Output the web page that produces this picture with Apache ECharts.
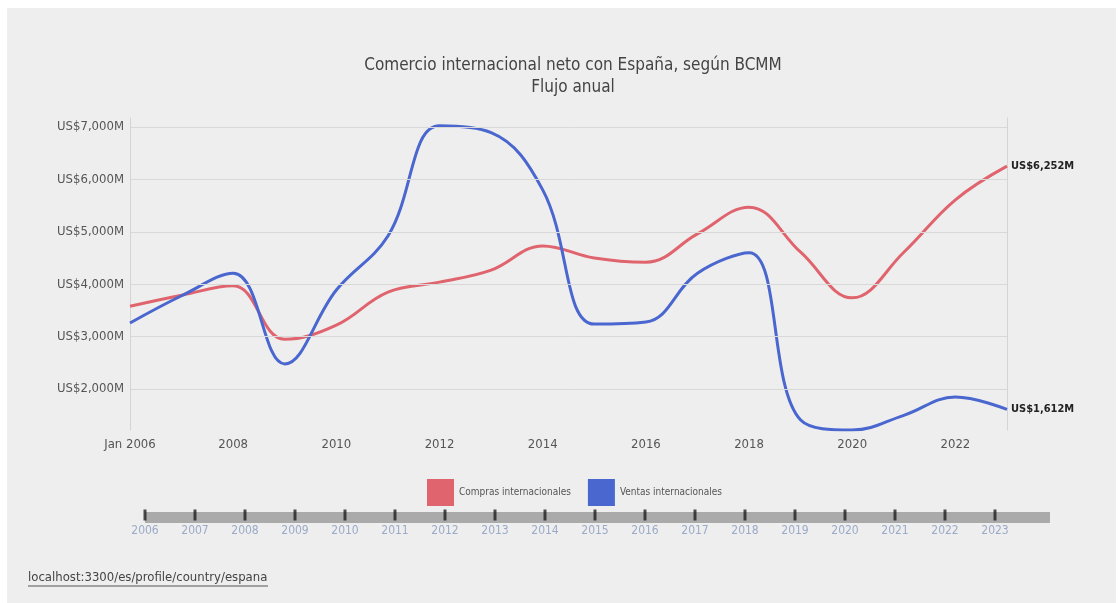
<!DOCTYPE html>
<html>
<head>
<meta charset="utf-8">
<script src="https://cdn.jsdelivr.net/npm/echarts@6/dist/echarts.min.js"></script>
<style>
html, body { margin: 0; padding: 0; background: #ffffff; }
#chart { width: 1118px; height: 603px; }
</style>
</head>
<body>
<div id="chart"></div>
<script>
var years = ['2006', '2007', '2008', '2009', '2010', '2011', '2012', '2013', '2014',
  '2015', '2016', '2017', '2018', '2019', '2020', '2021', '2022', '2023'];
// millones de US$
var compras = [3580, 3790, 3970, 2950, 3220, 3850, 4040, 4270, 4730,
  4500, 4420, 4960, 5470, 4610, 3740, 4610, 5610, 6252];
var ventas = [3260, 3780, 4210, 2480, 3890, 4920, 7020, 6890, 5800,
  3240, 3280, 4210, 4600, 1410, 1220, 1500, 1850, 1612];
var yTicks = [2000, 3000, 4000, 5000, 6000, 7000];
var timelineYears = [2006, 2007, 2008, 2009, 2010, 2011, 2012, 2013, 2014,
  2015, 2016, 2017, 2018, 2019, 2020, 2021, 2022, 2023];

var font = "'Liberation Sans Narrow', 'DejaVu Sans Condensed', 'Roboto', sans-serif";

function money(v) {
  return 'US$' + Math.round(v).toLocaleString('en-US') + 'M';
}

var myChart = echarts.init(document.getElementById('chart'));
var option = {
  textStyle: { fontFamily: font },
  graphic: [
    {
      type: 'rect', z: -10, silent: true,
      shape: { x: 7, y: 8, width: 1109, height: 600 },
      style: { fill: '#eeeeee' }
    },
    {
      type: 'text', left: 28, top: 571,
      style: { text: 'localhost:3300/es/profile/country/espana', fill: '#444', font: '13px ' + font }
    },
    {
      type: 'line', silent: true,
      shape: { x1: 28, y1: 586, x2: 268, y2: 586 },
      style: { stroke: '#555', lineWidth: 1 }
    }
  ],
  title: {
    text: 'Comercio internacional neto con España, según BCMM\nFlujo anual',
    left: 568,
    textAlign: 'center',
    top: 50,
    textStyle: { color: '#444', fontSize: 17, fontWeight: 'normal', lineHeight: 22, fontFamily: font }
  },
  legend: {
    top: 474,
    left: 422,
    itemWidth: 27,
    itemHeight: 27,
    itemGap: 17,
    icon: 'rect',
    textStyle: { color: '#555', fontSize: 10, fontFamily: font },
    data: ['Compras internacionales', 'Ventas internacionales']
  },
  grid: [
    { left: 130, right: 111, top: 118, bottom: 173 },
    { left: 145, right: 68, top: 507, height: 20 }
  ],
  xAxis: [
    {
      type: 'category',
      gridIndex: 0,
      data: years,
      boundaryGap: false,
      axisLine: { show: false },
      axisTick: { show: false },
      axisLabel: {
        interval: 1,
        color: '#555',
        fontSize: 13,
        margin: 8,
        fontFamily: font,
        formatter: function (v, i) { return i === 0 ? 'Jan ' + v : v; }
      },
      splitLine: { show: false }
    },
    {
      type: 'value',
      gridIndex: 1,
      min: 2006,
      max: 2024.1,
      interval: 1,
      axisLine: { show: true, onZero: true, lineStyle: { color: '#aaaaaa', width: 11, cap: 'butt' } },
      axisTick: { show: false },
      splitLine: { show: false },
      axisLabel: {
        showMaxLabel: false,
        color: '#9aaac8',
        fontSize: 12,
        margin: -2,
        fontFamily: font,
        formatter: function (v) { return v > 2023 ? '' : String(v); }
      }
    }
  ],
  yAxis: [
    {
      type: 'value',
      gridIndex: 0,
      min: 1220,
      max: 7170,
      axisLine: { show: true, lineStyle: { color: '#d4d4d4' } },
      axisTick: { show: false },
      axisLabel: {
        color: '#555',
        fontSize: 13,
        margin: 6,
        fontFamily: font,
        customValues: yTicks,
        formatter: money
      },
      splitLine: { show: false }
    },
    {
      type: 'value',
      gridIndex: 0,
      position: 'right',
      min: 1220,
      max: 7170,
      axisLine: { show: true, lineStyle: { color: '#d4d4d4' } },
      axisTick: { show: false },
      axisLabel: { show: false },
      splitLine: { show: false }
    },
    {
      type: 'value',
      gridIndex: 1,
      min: -1,
      max: 1,
      show: false
    }
  ],
  series: [
    {
      name: 'Compras internacionales',
      type: 'line',
      xAxisIndex: 0,
      yAxisIndex: 0,
      data: compras,
      smooth: 0.4,
      symbol: 'none',
      color: '#e0646e',
      lineStyle: { width: 3 },
      endLabel: {
        show: true,
        distance: 4,
        formatter: function (p) { return money(p.value); },
        color: '#222',
        fontSize: 11,
        fontWeight: 'bold',
        fontFamily: font
      },
      markLine: {
        silent: true,
        symbol: 'none',
        label: { show: false },
        lineStyle: { color: '#d8d8d8', width: 1, type: 'solid' },
        data: yTicks.map(function (v) { return { yAxis: v }; })
      },
      z: 3
    },
    {
      name: 'Ventas internacionales',
      type: 'line',
      xAxisIndex: 0,
      yAxisIndex: 0,
      data: ventas,
      smooth: 0.4,
      symbol: 'none',
      color: '#4a66cf',
      lineStyle: { width: 3 },
      endLabel: {
        show: true,
        distance: 4,
        formatter: function (p) { return money(p.value); },
        color: '#222',
        fontSize: 11,
        fontWeight: 'bold',
        fontFamily: font
      },
      z: 4
    },
    {
      name: 'timeline',
      type: 'scatter',
      xAxisIndex: 1,
      yAxisIndex: 2,
      data: timelineYears.map(function (y) { return [y, 0]; }),
      symbol: 'rect',
      symbolSize: [3, 11],
      symbolOffset: [0, -2],
      itemStyle: { color: '#1e1e1e' },
      silent: true,
      z: 5
    }
  ]
};
myChart.setOption(option);
</script>
</body>
</html>
